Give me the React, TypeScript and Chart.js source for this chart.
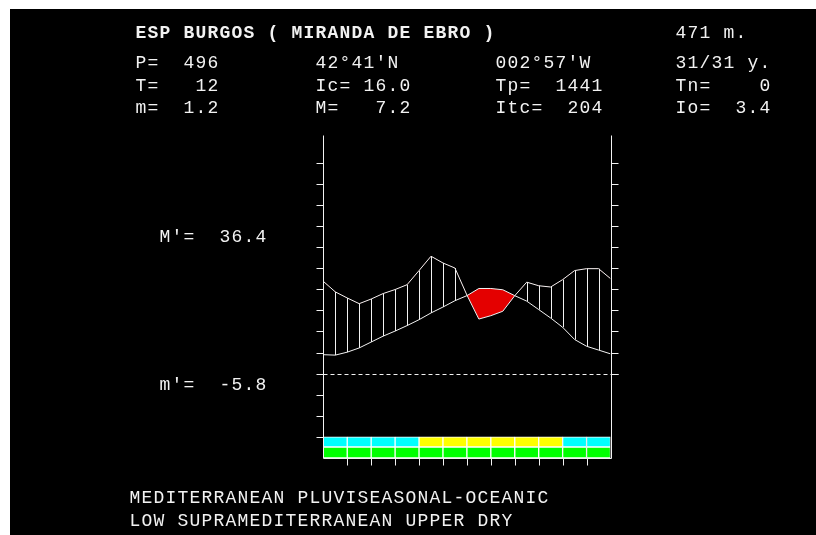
import React, { useEffect, useRef } from "react";
import { Chart, registerables } from "chart.js";

Chart.register(...registerables);

// ---- data ----
// x positions in months (month boundaries and month midpoints)
const steps = [0, 0.5, 1, 1.5, 2, 2.5, 3, 3.5, 4, 4.5, 5, 5.5, 6, 6.5, 7, 7.5, 8, 8.5, 9, 9.5, 10, 10.5, 11, 11.5, 12];
// temperature (°C)
const temperature = [4.5, 4.4, 5.1, 6.1, 7.5, 8.9, 10.1, 11.4, 12.8, 14.4, 15.8, 17.3, 18.5, 20.2, 20.2, 19.9, 18.5, 17.2, 15.2, 13.2, 11.0, 8.1, 6.5, 5.6, 4.7];
// precipitation (mm)
const precipitation = [43.8, 38.8, 35.9, 33.2, 35.4, 38.0, 39.9, 42.2, 48.9, 55.7, 52.5, 50.1, 37.3, 25.9, 27.5, 29.6, 37.0, 43.4, 41.7, 41.1, 44.6, 48.9, 49.8, 49.8, 45.1];

const months = ["J", "F", "M", "A", "M", "J", "J", "A", "S", "O", "N", "D"];
const topRowColors = ["#00ffff", "#00ffff", "#00ffff", "#00ffff", "#ffff00", "#ffff00", "#ffff00", "#ffff00", "#ffff00", "#ffff00", "#00ffff", "#00ffff"];
const bottomRowColors = ["#00ff00", "#00ff00", "#00ff00", "#00ff00", "#00ff00", "#00ff00", "#00ff00", "#00ff00", "#00ff00", "#00ff00", "#00ff00", "#00ff00"];
const topRowRange = [-17.4, -15];
const bottomRowRange = [-20, -17.4];

const leftTicks = [-15, -10, -5, 0, 5, 10, 15, 20, 25, 30, 35, 40, 45, 50]; // °C
const rightTicks = [0, 10, 20, 30, 40, 50, 60, 70, 80, 90, 100]; // mm
const monthTicks = [1, 2, 3, 4, 5, 6, 7, 8, 9, 10, 11];

const T_MIN = -20;
const T_MAX = 56.6;

const titleText = "ESP BURGOS ( MIRANDA DE EBRO )";
const altitudeText = "471 m.";
const infoCol1 = ["P=  496", "T=   12", "m=  1.2"];
const infoCol2 = ["42°41'N", "Ic= 16.0", "M=   7.2"];
const infoCol3 = ["002°57'W", "Tp=  1441", "Itc=  204"];
const infoCol4 = ["31/31 y.", "Tn=    0", "Io=  3.4"];
const maxText = "M'=  36.4";
const minText = "m'=  -5.8";
const bioclimateLines = ["MEDITERRANEAN PLUVISEASONAL-OCEANIC", "LOW SUPRAMEDITERRANEAN UPPER DRY"];

const FG = "#f2f2f2";
const CELL = 12;

function gridText(ctx: CanvasRenderingContext2D, text: string, x0: number, baseline: number) {
  for (let i = 0; i < text.length; i++) {
    const ch = text[i];
    if (ch === " ") continue;
    ctx.fillText(ch, x0 + i * CELL + CELL / 2, baseline);
  }
}

const decorPlugin = {
  id: "decor",
  beforeDraw(chart: any) {
    const { ctx, width, height } = chart;
    ctx.save();
    ctx.fillStyle = "#ffffff";
    ctx.fillRect(0, 0, width, height);
    ctx.fillStyle = "#000000";
    ctx.fillRect(10, 9, width - 10, height - 9);
    ctx.restore();
  },
  afterDatasetsDraw(chart: any) {
    const { ctx } = chart;
    const xs = chart.scales.x;
    const ys = chart.scales.y;
    const y2 = chart.scales.y2;
    const px = (v: number) => Math.round(xs.getPixelForValue(v)) + 0.5;
    const py = (v: number) => Math.round(ys.getPixelForValue(v)) + 0.5;
    const py2 = (v: number) => Math.round(y2.getPixelForValue(v)) + 0.5;
    const seg = (a: number, b: number, c: number, d: number) => {
      ctx.beginPath();
      ctx.moveTo(a, b);
      ctx.lineTo(c, d);
      ctx.stroke();
    };
    ctx.save();
    ctx.strokeStyle = FG;
    ctx.lineWidth = 1;

    // hatching where precipitation exceeds temperature
    steps.forEach((s, i) => {
      const x = px(s);
      const pp = y2.getPixelForValue(precipitation[i]);
      const tp = ys.getPixelForValue(temperature[i]);
      if (tp - pp > 1) seg(x, pp, x, tp);
    });

    const top = py(T_MAX);
    const bot = py(T_MIN);
    const xl = px(0);
    const xr = px(12);
    // axes
    seg(xl, top, xl, bot);
    seg(xr, top, xr, bot);
    leftTicks.forEach((t) => {
      const y = py(t);
      seg(xl - 7, y, xl, y);
    });
    rightTicks.forEach((t) => {
      const y = py2(t);
      seg(xr, y, xr + 7, y);
    });
    monthTicks.forEach((m) => {
      const x = px(m);
      seg(x, bot, x, bot + 7);
    });
    seg(xl, bot, xr, bot);

    // zero line dashed
    ctx.setLineDash([4, 3]);
    const y0 = py(0);
    seg(xl, y0, xr + 7, y0);
    ctx.setLineDash([]);
    ctx.restore();
  },
  afterDraw(chart: any) {
    const { ctx } = chart;
    ctx.save();
    ctx.fillStyle = FG;
    ctx.textAlign = "center";
    ctx.textBaseline = "alphabetic";
    ctx.font = 'bold 18px "Liberation Mono"';
    gridText(ctx, titleText, 135, 38);
    ctx.font = '18px "Liberation Mono"';
    gridText(ctx, altitudeText, 675, 38);
    const rows = [68, 91, 113];
    rows.forEach((b, i) => {
      gridText(ctx, infoCol1[i], 135, b);
      gridText(ctx, infoCol2[i], 315, b);
      gridText(ctx, infoCol3[i], 495, b);
      gridText(ctx, infoCol4[i], 675, b);
    });
    gridText(ctx, maxText, 159, 242);
    gridText(ctx, minText, 159, 390);
    gridText(ctx, bioclimateLines[0], 129, 503);
    gridText(ctx, bioclimateLines[1], 129, 526);
    ctx.restore();
  },
};

export default function App() {
  const ref = useRef<HTMLCanvasElement | null>(null);
  useEffect(() => {
    document.body.style.margin = "0";
    const canvas = ref.current;
    if (!canvas) return;
    const chart = new Chart(canvas, {
      type: "line",
      data: {
        labels: months,
        datasets: [
          {
            label: "Precipitation",
            data: steps.map((s, i) => ({ x: s, y: precipitation[i] })),
            xAxisID: "x",
            yAxisID: "y2",
            borderColor: FG,
            borderWidth: 1,
            pointRadius: 0,
            tension: 0,
            fill: false,
          } as any,
          {
            label: "Temperature",
            data: steps.map((s, i) => ({ x: s, y: temperature[i] })),
            xAxisID: "x",
            yAxisID: "y",
            borderColor: FG,
            borderWidth: 1,
            pointRadius: 0,
            tension: 0,
            fill: { target: 0, above: "#e40000", below: "rgba(0,0,0,0)" },
          } as any,
          {
            type: "bar",
            label: "Period",
            data: months.map(() => topRowRange),
            xAxisID: "xb",
            yAxisID: "y",
            backgroundColor: topRowColors,
            borderColor: "#ffffff",
            borderWidth: 1,
            borderSkipped: false,
            grouped: false,
            barPercentage: 1,
            categoryPercentage: 1,
          } as any,
          {
            type: "bar",
            label: "Vegetative",
            data: months.map(() => bottomRowRange),
            xAxisID: "xb",
            yAxisID: "y",
            backgroundColor: bottomRowColors,
            borderColor: "#ffffff",
            borderWidth: 1,
            borderSkipped: false,
            grouped: false,
            barPercentage: 1,
            categoryPercentage: 1,
          } as any,
        ],
      },
      options: {
        responsive: false,
        animation: false,
        devicePixelRatio: 1,
        datasets: {
          bar: { barPercentage: 1, categoryPercentage: 1, grouped: false },
        },
        layout: { padding: { left: 323.3, right: 205.5, top: 135, bottom: 77 } },
        scales: {
          x: { type: "linear", min: 0, max: 12, display: false },
          xb: { type: "category", offset: true, display: false },
          y: { type: "linear", min: T_MIN, max: T_MAX, display: false },
          y2: { type: "linear", min: T_MIN * 2, max: T_MAX * 2, display: false },
        },
        plugins: {
          legend: { display: false },
          tooltip: { enabled: false },
        },
      } as any,
      plugins: [decorPlugin],
    });
    return () => chart.destroy();
  }, []);
  return (
    <div style={{ position: "absolute", left: 0, top: 0, width: 816, height: 535 }}>
      <canvas ref={ref} width={816} height={535} style={{ display: "block", width: 816, height: 535 }} />
    </div>
  );
}
